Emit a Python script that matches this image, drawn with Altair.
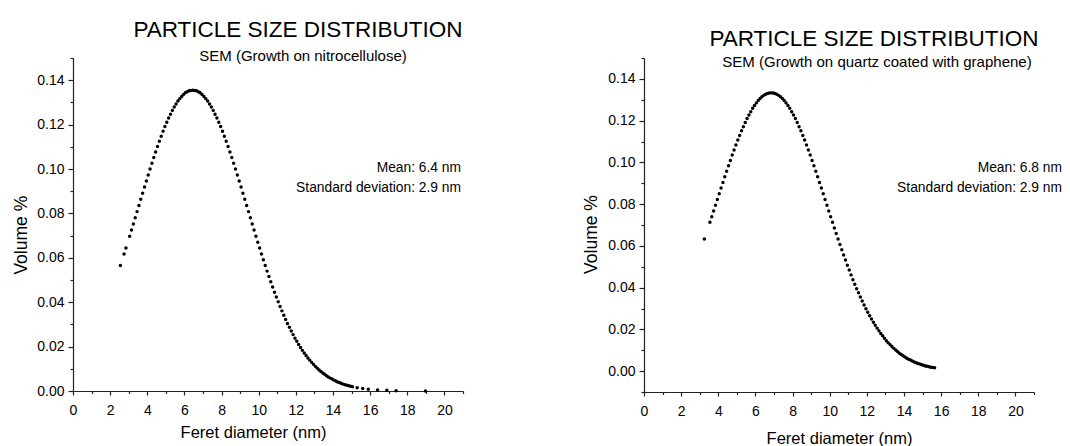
import altair as alt
import pandas as pd

FONT = "Liberation Sans"

# ---------------- data ----------------
# Left panel: SEM (Growth on nitrocellulose)
left_x = [
    2.55, 2.75, 2.85, 3.05, 3.15, 3.25, 3.35, 3.45, 3.55, 3.65,
    3.75, 3.85, 3.95, 4.05, 4.15, 4.25, 4.35, 4.45, 4.55, 4.65,
    4.75, 4.85, 4.95, 5.05, 5.15, 5.25, 5.35, 5.45, 5.55, 5.65,
    5.75, 5.85, 5.95, 6.05, 6.15, 6.25, 6.35,
    6.45, 6.55, 6.65, 6.75, 6.85, 6.95, 7.05, 7.15, 7.25, 7.35,
    7.45, 7.55, 7.65, 7.75, 7.85, 7.95, 8.05, 8.15, 8.25, 8.35,
    8.45, 8.55, 8.65, 8.75, 8.85, 8.95, 9.05, 9.15, 9.25, 9.35,
    9.45, 9.55, 9.65, 9.75, 9.85, 9.95, 10.05, 10.15, 10.25, 10.35,
    10.45, 10.55, 10.65, 10.75, 10.85, 10.95, 11.05, 11.15, 11.25, 11.35,
    11.45, 11.55, 11.65, 11.75, 11.85, 11.95, 12.05, 12.15, 12.25, 12.35,
    12.45, 12.55, 12.65, 12.75, 12.85, 12.95, 13.05, 13.15, 13.25, 13.35,
    13.45, 13.55, 13.65, 13.75, 13.85, 13.95, 14.05, 14.15, 14.25, 14.35,
    14.45, 14.55, 14.65, 14.75, 14.85, 14.95, 15.05,
    15.3, 15.6, 15.9, 16.4, 16.9, 17.4, 18.98,
]
left_y = [
    0.0565, 0.0617, 0.0644, 0.0697, 0.0725, 0.0752, 0.0780, 0.0808, 0.0836, 0.0864,
    0.0891, 0.0919, 0.0946, 0.0973, 0.1000, 0.1026, 0.1052, 0.1077, 0.1101, 0.1125,
    0.1148, 0.1170, 0.1191, 0.1211, 0.1230, 0.1247, 0.1264, 0.1279, 0.1293, 0.1306,
    0.1317, 0.1327, 0.1336, 0.1343, 0.1348, 0.1352, 0.1354,
    0.1355, 0.1354, 0.1352, 0.1348, 0.1343, 0.1336, 0.1327, 0.1317, 0.1306, 0.1293,
    0.1279, 0.1264, 0.1247, 0.1230, 0.1211, 0.1191, 0.1170, 0.1148, 0.1125, 0.1101,
    0.1077, 0.1052, 0.1026, 0.1000, 0.0973, 0.0946, 0.0919, 0.0891, 0.0864, 0.0836,
    0.0808, 0.0780, 0.0752, 0.0725, 0.0697, 0.0670, 0.0644, 0.0617, 0.0591, 0.0565,
    0.0540, 0.0516, 0.0492, 0.0468, 0.0445, 0.0423, 0.0402, 0.0381, 0.0361, 0.0341,
    0.0322, 0.0304, 0.0287, 0.0270, 0.0254, 0.0238, 0.0224, 0.0210, 0.0196, 0.0183,
    0.0171, 0.0160, 0.0149, 0.0139, 0.0129, 0.0120, 0.0111, 0.0103, 0.0095, 0.0088,
    0.0081, 0.0075, 0.0069, 0.0063, 0.0058, 0.0054, 0.0049, 0.0045, 0.0041, 0.0038,
    0.0034, 0.0031, 0.0028, 0.0026, 0.0024, 0.0021, 0.0019,
    0.0015, 0.0011, 0.0008, 0.0005, 0.0003, 0.0001, 0.0000,
]

# Right panel: SEM (Growth on quartz coated with graphene)
right_x = [
    3.25, 3.55, 3.65, 3.75, 3.85, 3.95, 4.05, 4.15, 4.25, 4.35,
    4.45, 4.55, 4.65, 4.75, 4.85, 4.95, 5.05, 5.15, 5.25, 5.35,
    5.45, 5.55, 5.65, 5.75, 5.85, 5.95, 6.05, 6.15, 6.25, 6.35,
    6.45, 6.55, 6.65, 6.75,
    6.85, 6.95, 7.05, 7.15, 7.25, 7.35, 7.45, 7.55, 7.65, 7.75,
    7.85, 7.95, 8.05, 8.15, 8.25, 8.35, 8.45, 8.55, 8.65, 8.75,
    8.85, 8.95, 9.05, 9.15, 9.25, 9.35, 9.45, 9.55, 9.65, 9.75,
    9.85, 9.95, 10.05, 10.15, 10.25, 10.35, 10.45, 10.55, 10.65, 10.75,
    10.85, 10.95, 11.05, 11.15, 11.25, 11.35, 11.45, 11.55, 11.65, 11.75,
    11.85, 11.95, 12.05, 12.15, 12.25, 12.35, 12.45, 12.55, 12.65, 12.75,
    12.85, 12.95, 13.05, 13.15, 13.25, 13.35, 13.45, 13.55, 13.65, 13.75,
    13.85, 13.95, 14.05, 14.15, 14.25, 14.35, 14.45, 14.55, 14.65, 14.75,
    14.85, 14.95, 15.05, 15.15, 15.25, 15.35, 15.45, 15.55, 15.65,
]
right_y = [
    0.0633, 0.0713, 0.0740, 0.0767, 0.0795, 0.0822, 0.0850, 0.0877, 0.0904, 0.0931,
    0.0957, 0.0984, 0.1009, 0.1035, 0.1059, 0.1083, 0.1107, 0.1129, 0.1151, 0.1171,
    0.1191, 0.1210, 0.1227, 0.1243, 0.1259, 0.1272, 0.1285, 0.1296, 0.1306, 0.1314,
    0.1321, 0.1326, 0.1330, 0.1332,
    0.1333, 0.1332, 0.1330, 0.1326, 0.1321, 0.1314, 0.1306, 0.1296, 0.1285, 0.1272,
    0.1259, 0.1243, 0.1227, 0.1210, 0.1191, 0.1171, 0.1151, 0.1129, 0.1107, 0.1083,
    0.1059, 0.1035, 0.1009, 0.0984, 0.0957, 0.0931, 0.0904, 0.0877, 0.0850, 0.0822,
    0.0795, 0.0767, 0.0740, 0.0713, 0.0686, 0.0659, 0.0633, 0.0607, 0.0581, 0.0556,
    0.0532, 0.0507, 0.0484, 0.0461, 0.0438, 0.0416, 0.0395, 0.0375, 0.0355, 0.0336,
    0.0317, 0.0299, 0.0282, 0.0265, 0.0250, 0.0234, 0.0220, 0.0206, 0.0193, 0.0180,
    0.0169, 0.0157, 0.0146, 0.0136, 0.0127, 0.0118, 0.0109, 0.0101, 0.0094, 0.0086,
    0.0080, 0.0074, 0.0068, 0.0062, 0.0057, 0.0053, 0.0048, 0.0044, 0.0040, 0.0037,
    0.0034, 0.0031, 0.0028, 0.0025, 0.0023, 0.0021, 0.0019, 0.0017, 0.0016,
]

x_ticks = [0, 1, 2, 3, 4, 5, 6, 7, 8, 9, 10, 11, 12, 13, 14, 15, 16, 17, 18, 19, 20, 21]
y_ticks_left = [0.00, 0.01, 0.02, 0.03, 0.04, 0.05, 0.06, 0.07, 0.08, 0.09,
                0.10, 0.11, 0.12, 0.13, 0.14, 0.15]
y_ticks_right = [-0.01] + y_ticks_left

main_title = "PARTICLE SIZE DISTRIBUTION"
subtitles = ["SEM (Growth on nitrocellulose)", "SEM (Growth on quartz coated with graphene)"]
means = ["Mean: 6.4 nm", "Mean: 6.8 nm"]
sds = ["Standard deviation: 2.9 nm", "Standard deviation: 2.9 nm"]
x_title = "Feret diameter (nm)"
y_title = "Volume %"

AX = "#222222"


def x_axis(title_x, title_y):
    return alt.Axis(
        values=x_ticks,
        labelExpr="datum.value % 2 === 0 ? datum.label : ''",
        tickSize={"condition": {"test": "datum.value % 2 === 0", "value": 4}, "value": 2.5},
        labelFont=FONT, labelFontSize=14, labelColor="black", labelPadding=8,
        labelOverlap=False, labelFlush=False,
        domainColor=AX, domainWidth=1.2, tickColor=AX, tickWidth=1.2, grid=False,
        title=x_title, titleFont=FONT, titleFontSize=16.5, titleFontWeight="normal",
        titleColor="black", titleX=title_x, titleY=title_y, titleAlign="center",
        titleBaseline="middle",
    )


def y_axis(values, title_x, title_y):
    return alt.Axis(
        values=values,
        labelExpr="round(datum.value * 100) % 2 === 0 ? format(datum.value, '.2f') : ''",
        tickSize={"condition": {"test": "round(datum.value * 100) % 2 === 0", "value": 5}, "value": 3},
        labelFont=FONT, labelFontSize=14, labelColor="black", labelPadding=4,
        labelOverlap=False, labelFlush=False,
        domainColor=AX, domainWidth=1.2, tickColor=AX, tickWidth=1.2, grid=False,
        title=y_title, titleFont=FONT, titleFontSize=17.5, titleFontWeight="normal",
        titleColor="black", titleX=title_x, titleY=title_y, titleAngle=270,
        titleAlign="center", titleBaseline="middle",
    )


def text_layer(txt, size, x, y, align):
    return alt.Chart(pd.DataFrame({"t": [txt]})).mark_text(
        font=FONT, fontSize=size, align=align, baseline="alphabetic", color="black"
    ).encode(x=alt.value(x), y=alt.value(y), text="t:N")


def panel(xs, ys, ydom, yvals, h, i, tpos, spos, apos, xt, yt):
    df = pd.DataFrame({"d": xs, "v": ys})
    pts = alt.Chart(df).mark_circle(size=12, color="black", opacity=1).encode(
        x=alt.X("d:Q", scale=alt.Scale(domain=[0, 21], nice=False, zero=False),
                axis=x_axis(*xt)),
        y=alt.Y("v:Q", scale=alt.Scale(domain=ydom, nice=False, zero=False),
                axis=y_axis(yvals, *yt)),
    )
    return alt.layer(
        pts,
        text_layer(main_title, 22.5, tpos[0], tpos[1], "center"),
        text_layer(subtitles[i], 15, spos[0], spos[1], "center"),
        text_layer(means[i], 13.8, apos[0], apos[1], "right"),
        text_layer(sds[i], 13.8, apos[0], apos[1] + 20, "right"),
    ).properties(width=390, height=h)


left = panel(left_x, left_y, [0, 0.15], y_ticks_left, 333, 0,
             (225, -21), (230, 3), (388, 114), (180, 41), (-51.5, 176.7))
right = panel(right_x, right_y, [-0.01, 0.15], y_ticks_right, 334, 1,
              (230, -12), (233, 9), (418, 114), (195, 46), (-52.5, 176))

chart = alt.hconcat(left, right, spacing=181, bounds="flush").properties(
    padding={"left": 4, "top": 11, "right": 0, "bottom": 0},
    background="white",
).configure_view(stroke=None)

chart.save("out.html", embed_options={"renderer": "svg", "actions": False})
